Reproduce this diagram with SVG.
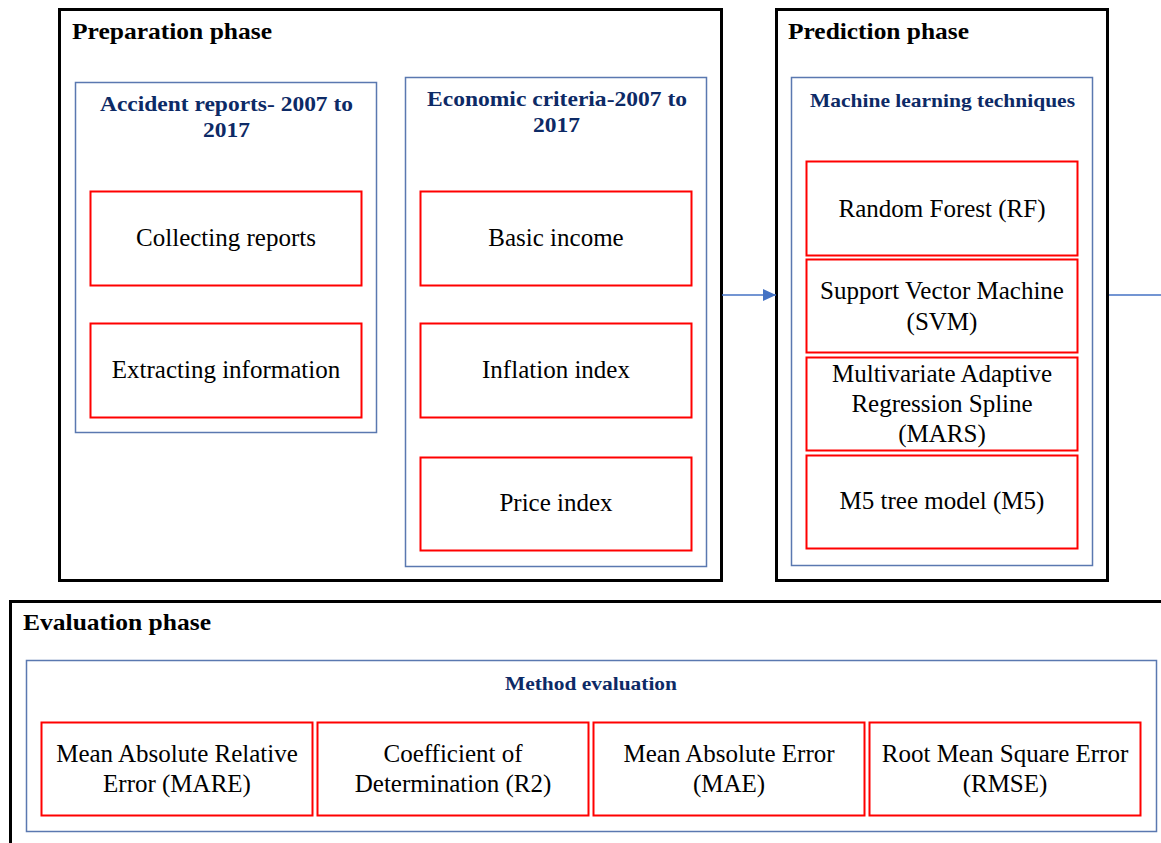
<svg xmlns="http://www.w3.org/2000/svg" width="1161" height="843" viewBox="0 0 1161 843">
<defs>
<style>
.phase{fill:#fff;stroke:#000;stroke-width:3}
.group{fill:none;stroke:#5A78B0;stroke-width:1.5}
.item{fill:#fff;stroke:#FF0000;stroke-width:2}
.pt{font-family:"Liberation Serif",serif;font-weight:bold;font-size:24px;fill:#000}
.gt{font-family:"Liberation Serif",serif;font-weight:bold;font-size:22px;fill:#0D2A66}
.gs{font-family:"Liberation Serif",serif;font-weight:bold;font-size:19.5px;fill:#0D2A66}
.it{font-family:"Liberation Serif",serif;font-size:25px;fill:#000;text-anchor:middle}
.conn{stroke:#4472C4;stroke-width:1.5;fill:none}
</style>
<marker id="arr" markerWidth="13" markerHeight="12" refX="13" refY="6" orient="auto" markerUnits="userSpaceOnUse">
<path d="M0,0 L13,6 L0,12 z" fill="#4472C4"/>
</marker>
</defs>
<rect width="1161" height="843" fill="#fff"/>

<g id="preparation">
<rect class="phase" x="59.5" y="9.5" width="662" height="571"/>
<text class="pt" x="72" y="39" textLength="200" lengthAdjust="spacingAndGlyphs">Preparation phase</text>
</g>
<g id="accident-reports">
<rect class="group" x="75.5" y="82.5" width="301" height="350"/>
<text class="gt" x="100" y="111" textLength="253" lengthAdjust="spacingAndGlyphs">Accident reports- 2007 to</text>
<text class="gt" x="203" y="137" textLength="47" lengthAdjust="spacingAndGlyphs">2017</text>
</g>
<g id="collecting-reports">
<rect class="item" x="90.5" y="191.5" width="271" height="94"/>
<text class="it" x="226" y="246">Collecting reports</text>
</g>
<g id="extracting-information">
<rect class="item" x="90.5" y="323.5" width="271" height="94"/>
<text class="it" x="226" y="378">Extracting information</text>
</g>
<g id="economic-criteria">
<rect class="group" x="405.5" y="77.5" width="301" height="489"/>
<text class="gt" x="427" y="106" textLength="260" lengthAdjust="spacingAndGlyphs">Economic criteria-2007 to</text>
<text class="gt" x="533" y="132" textLength="47" lengthAdjust="spacingAndGlyphs">2017</text>
</g>
<g id="basic-income">
<rect class="item" x="420.5" y="191.5" width="271" height="94"/>
<text class="it" x="556" y="246">Basic income</text>
</g>
<g id="inflation-index">
<rect class="item" x="420.5" y="323.5" width="271" height="94"/>
<text class="it" x="556" y="378">Inflation index</text>
</g>
<g id="price-index">
<rect class="item" x="420.5" y="457.5" width="271" height="93"/>
<text class="it" x="556" y="511">Price index</text>
</g>

<g id="prediction">
<rect class="phase" x="776.5" y="9.5" width="331" height="571"/>
<text class="pt" x="788" y="39" textLength="181" lengthAdjust="spacingAndGlyphs">Prediction phase</text>
</g>
<g id="ml-techniques">
<rect class="group" x="791.5" y="77.5" width="301" height="488"/>
<text class="gs" x="810" y="107" textLength="265" lengthAdjust="spacingAndGlyphs">Machine learning techniques</text>
</g>
<g id="rf">
<rect class="item" x="806.5" y="161.5" width="271" height="94"/>
<text class="it" x="942" y="217">Random Forest (RF)</text>
</g>
<g id="svm">
<rect class="item" x="806.5" y="259.5" width="271" height="93"/>
<text class="it" x="942" y="299">Support Vector Machine</text>
<text class="it" x="942" y="330">(SVM)</text>
</g>
<g id="mars">
<rect class="item" x="806.5" y="357.5" width="271" height="93"/>
<text class="it" x="942" y="382">Multivariate Adaptive</text>
<text class="it" x="942" y="412">Regression Spline</text>
<text class="it" x="942" y="442">(MARS)</text>
</g>
<g id="m5">
<rect class="item" x="806.5" y="455.5" width="271" height="93"/>
<text class="it" x="942" y="509">M5 tree model (M5)</text>
</g>

<g id="evaluation">
<rect class="phase" x="10.5" y="601.5" width="1160" height="260"/>
<text class="pt" x="23" y="630" textLength="188" lengthAdjust="spacingAndGlyphs">Evaluation phase</text>
</g>
<g id="method-evaluation">
<rect class="group" x="26.5" y="660.5" width="1130" height="171"/>
<text class="gs" x="505" y="690" textLength="172" lengthAdjust="spacingAndGlyphs">Method evaluation</text>
</g>
<g id="mare">
<rect class="item" x="41.5" y="722.5" width="271" height="93"/>
<text class="it" x="177" y="762">Mean Absolute Relative</text>
<text class="it" x="177" y="792">Error (MARE)</text>
</g>
<g id="r2">
<rect class="item" x="317.5" y="722.5" width="271" height="93"/>
<text class="it" x="453" y="762">Coefficient of</text>
<text class="it" x="453" y="792">Determination (R2)</text>
</g>
<g id="mae">
<rect class="item" x="593.5" y="722.5" width="271" height="93"/>
<text class="it" x="729" y="762">Mean Absolute Error</text>
<text class="it" x="729" y="792">(MAE)</text>
</g>
<g id="rmse">
<rect class="item" x="869.5" y="722.5" width="271" height="93"/>
<text class="it" x="1005" y="762">Root Mean Square Error</text>
<text class="it" x="1005" y="792">(RMSE)</text>
</g>

<g id="connectors">
<line class="conn" x1="722" y1="295" x2="776" y2="295" marker-end="url(#arr)"/>
<line class="conn" x1="1109" y1="295" x2="1161" y2="295"/>
</g>
</svg>
